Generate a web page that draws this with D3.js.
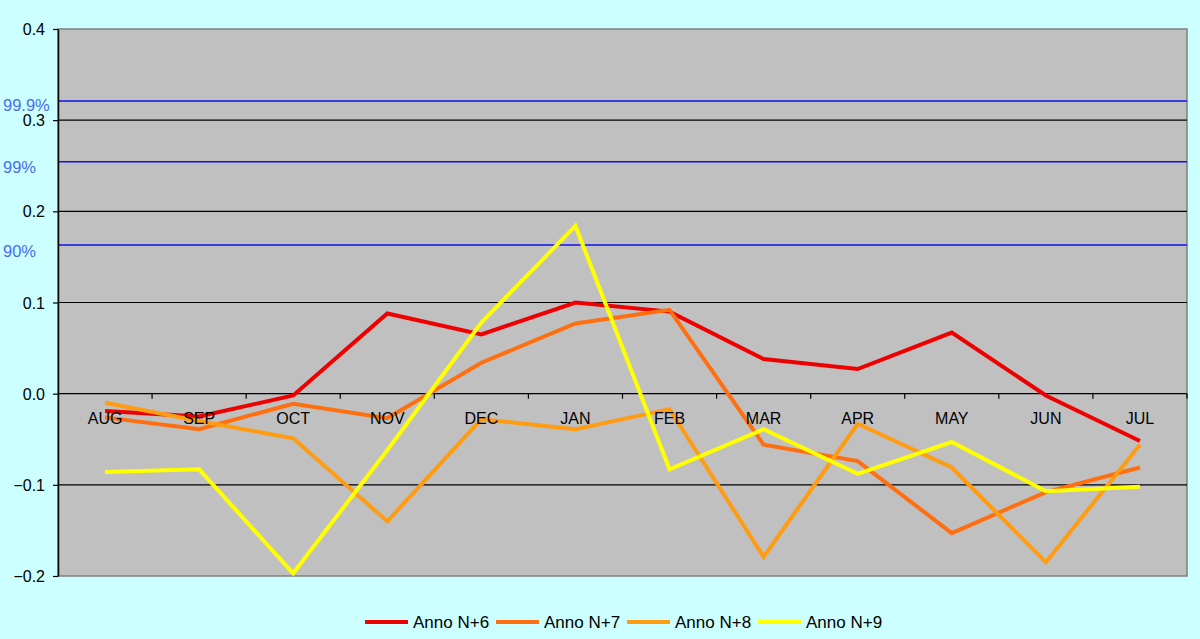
<!DOCTYPE html>
<html><head><meta charset="utf-8">
<script src="https://cdn.jsdelivr.net/npm/d3@7"></script>
<style>html,body{margin:0;padding:0;background:#ccffff;}svg{display:block;}</style>
</head><body>
<svg id="c" width="1200" height="639"></svg>
<script>
const months = ["AUG","SEP","OCT","NOV","DEC","JAN","FEB","MAR","APR","MAY","JUN","JUL"];
const seriesNames = ["Anno N+6","Anno N+7","Anno N+8","Anno N+9"];
const seriesColors = ["#ee0000","#ff6f0f","#ff9c12","#ffff00"];
const annoN6 = [-0.019,-0.025,-0.002,0.088,0.065,0.100,0.090,0.038,0.027,0.067,-0.002,-0.052];
const annoN7 = [-0.026,-0.039,-0.011,-0.027,0.034,0.077,0.092,-0.056,-0.074,-0.153,-0.108,-0.081];
const annoN8 = [-0.010,-0.030,-0.049,-0.140,-0.028,-0.039,-0.017,-0.179,-0.033,-0.081,-0.185,-0.056];
const annoN9 = [-0.086,-0.083,-0.197,-0.062,0.078,0.184,-0.083,-0.039,-0.088,-0.053,-0.107,-0.102];
const yTicks = [-0.2,-0.1,0.0,0.1,0.2,0.3,0.4];
const thresholdLabels = ["99.9%","99%","90%"];
const thresholdValues = [0.321,0.2545,0.163];

const seriesData = [annoN6,annoN7,annoN8,annoN9];
const svg = d3.select("#c");
const L=58,R=1187,T=29,B=576;
const x = d3.scaleBand().domain(months).range([L,R]);
const y = d3.scaleLinear().domain([-0.2,0.4]).range([B,T]);
const font = "'Liberation Sans', Arial, Helvetica, sans-serif";

svg.append("rect").attr("x",L).attr("y",T).attr("width",R-L).attr("height",B-T)
  .attr("fill","#c0c0c0").attr("stroke","#808080").attr("stroke-width",1.5);

// gridlines
svg.append("g").selectAll("line").data(yTicks.filter(d=>d>-0.2&&d<0.4)).join("line")
  .attr("x1",L).attr("x2",R).attr("y1",d=>y(d)).attr("y2",d=>y(d))
  .attr("stroke","#000").attr("stroke-width",1.2);

// threshold lines
svg.append("g").selectAll("line").data(thresholdValues).join("line")
  .attr("x1",L).attr("x2",R).attr("y1",d=>y(d)).attr("y2",d=>y(d))
  .attr("stroke","#1010ee").attr("stroke-width",1.5);
svg.append("g").selectAll("text").data(thresholdValues).join("text")
  .attr("x",3).attr("y",(d,i)=>y(d)+(i===0?4:6)).attr("dy","0.35em")
  .attr("font-family",font).attr("font-size",16.5).attr("fill","#4a6cf0")
  .text((d,i)=>thresholdLabels[i]);

// y axis
const yAxis = svg.append("g").attr("transform",`translate(${L},0)`)
  .call(d3.axisLeft(y).tickValues(yTicks).tickFormat(d3.format(".1f")).tickSize(5).tickSizeOuter(0));
yAxis.select(".domain").attr("stroke","#000").attr("stroke-width",1.5);
yAxis.selectAll(".tick line").attr("stroke","#000").attr("stroke-width",1.2);
yAxis.selectAll("text").attr("font-family",font).attr("font-size",16).attr("fill","#000").attr("x",-13).attr("dy","0.35em");

// x axis tick marks at zero
svg.append("g").selectAll("line").data(months.slice(1).concat(["end"])).join("line")
  .attr("x1",(d,i)=>L+(i+1)*x.step()).attr("x2",(d,i)=>L+(i+1)*x.step())
  .attr("y1",y(0)).attr("y2",y(0)+5).attr("stroke","#000").attr("stroke-width",1.2);

// series
const line = d3.line().x((d,i)=>x(months[i])+x.bandwidth()/2).y(d=>y(d));
svg.append("g").selectAll("path").data(seriesData).join("path")
  .attr("d",line).attr("fill","none").attr("stroke",(d,i)=>seriesColors[i])
  .attr("stroke-width",4).attr("stroke-linejoin","miter");

// x axis labels drawn on top of lines
const xAxis = svg.append("g").attr("transform",`translate(0,${y(0)})`)
  .call(d3.axisBottom(x).tickSize(0).tickSizeOuter(0));
xAxis.select(".domain").remove();
xAxis.selectAll("text").attr("font-family",font).attr("font-size",16).attr("fill","#000").attr("y",25).attr("dy","0.35em");

// legend
const legX = [365,496,627,758];
const lg = svg.append("g").selectAll("g").data(seriesNames).join("g")
  .attr("transform",(d,i)=>`translate(${legX[i]},622)`);
lg.append("line").attr("x1",0).attr("x2",43).attr("stroke",(d,i)=>seriesColors[i]).attr("stroke-width",4);
lg.append("text").attr("x",48).attr("dy","0.35em").attr("font-family",font).attr("font-size",17).attr("fill","#000").text(d=>d);
</script>
</body></html>
